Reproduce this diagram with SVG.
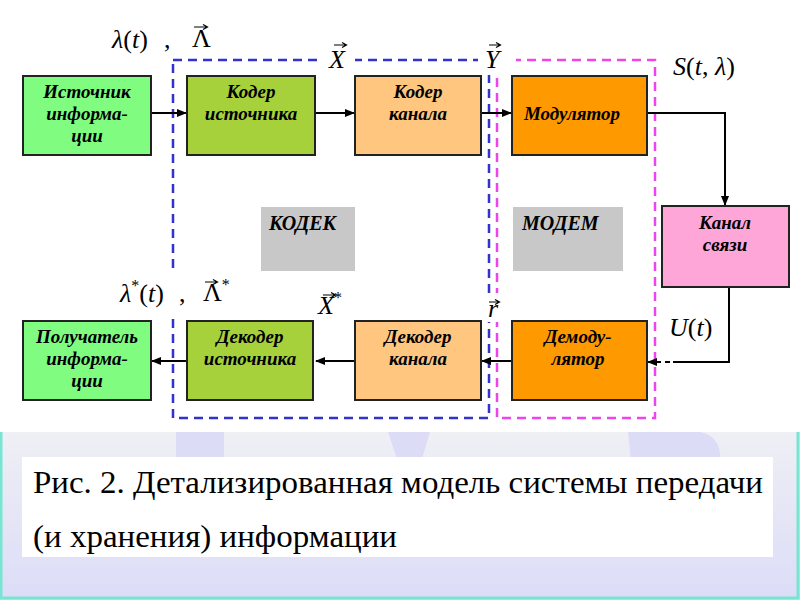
<svg xmlns="http://www.w3.org/2000/svg" width="800" height="600" viewBox="0 0 800 600" font-family="Liberation Serif, Times New Roman, serif">
<defs>
<linearGradient id="pg" x1="0" y1="0" x2="0" y2="1"><stop offset="0" stop-color="#EFEFF5"/><stop offset="1" stop-color="#DCDCF8"/></linearGradient>
<marker id="ah" markerWidth="10" markerHeight="8" refX="9" refY="4" orient="auto" markerUnits="userSpaceOnUse"><path d="M0,0 L10,4 L0,8 Z" fill="#000"/></marker>
<style>
.node{stroke:#222;stroke-width:2}
.nt{font-weight:bold;font-style:italic;font-size:19px;text-anchor:middle;fill:#000}
.lbl{font-weight:bold;font-style:italic;font-size:20px;fill:#000}
.m{font-size:26px;fill:#000}
.i{font-style:italic}
.vec{stroke:#000;stroke-width:1.2;fill:none}
.conn{stroke:#000;stroke-width:2;fill:none}
.cap{font-size:32px;fill:#000}
</style>
</defs>
<rect width="800" height="600" fill="#fff"/>
<g id="panel">
<rect x="0" y="432" width="800" height="168" fill="url(#pg)"/>
<path d="M176,432 H224 V470 H176 Z" fill="#DCDCF6"/>
<path d="M388,432 L430,432 L421,462 L398,462 Z" fill="#DCDCF6"/>
<path d="M628,432 H700 Q724,436 720,470 H632 Z" fill="#DCDCF6"/>
<path d="M1,432 V598 H798 V432" fill="none" stroke="#76E6D2" stroke-width="3"/>
<rect x="22" y="457" width="751" height="100" fill="#fff"/>
<text class="cap" font-family="Liberation Serif, serif" x="33" y="493" textLength="730" lengthAdjust="spacingAndGlyphs">Рис. 2. Детализированная модель системы передачи</text>
<text class="cap" font-family="Liberation Serif, serif" x="33" y="547" textLength="364" lengthAdjust="spacingAndGlyphs">(и хранения) информации</text>
</g>
<g id="codec-frame"><rect x="173" y="60" width="316" height="358" fill="none" stroke="#3333CC" stroke-width="2.5" stroke-dasharray="9 6"/></g>
<g id="modem-frame"><rect x="497" y="60" width="158" height="358" fill="none" stroke="#EE44EE" stroke-width="2.5" stroke-dasharray="9 6"/></g>
<g id="codec-label"><rect x="261" y="207" width="94" height="64" fill="#C8C8C8"/><text class="lbl" x="269" y="230">КОДЕК</text></g>
<g id="modem-label"><rect x="513" y="207" width="110" height="64" fill="#C8C8C8"/><text class="lbl" x="522" y="230">МОДЕМ</text></g>
<g id="connectors">
<path class="conn" d="M151,113 H186" marker-end="url(#ah)"/>
<path class="conn" d="M315,113 H354" marker-end="url(#ah)"/>
<path class="conn" d="M481,113 H511" marker-end="url(#ah)"/>
<path class="conn" d="M647,113 H725 V205" marker-end="url(#ah)"/>
<path class="conn" d="M729,287 V362 H673"/>
<path class="conn" d="M670,362 H648" stroke-dasharray="5 4" marker-end="url(#ah)"/>
<path class="conn" d="M512,361 H482" marker-end="url(#ah)"/>
<path class="conn" d="M355,361 H316" marker-end="url(#ah)"/>
<path class="conn" d="M187,361 H152" marker-end="url(#ah)"/>
</g>
<g id="src"><rect class="node" x="23" y="76" width="128" height="79" fill="#80FC80"/><text class="nt" x="87" y="98">Источник</text><text class="nt" x="87" y="120">информа-</text><text class="nt" x="87" y="142">ции</text></g>
<g id="enc-src"><rect class="node" x="187" y="76" width="128" height="79" fill="#A6D13B"/><text class="nt" x="251" y="98">Кодер</text><text class="nt" x="251" y="120">источника</text></g>
<g id="enc-ch"><rect class="node" x="355" y="76" width="126" height="79" fill="#FFC680"/><text class="nt" x="418" y="98">Кодер</text><text class="nt" x="418" y="120">канала</text></g>
<g id="mod"><rect class="node" x="512" y="76" width="135" height="79" fill="#FF9900"/><text class="nt" x="572" y="120">Модулятор</text></g>
<g id="channel"><rect class="node" x="662" y="206" width="127" height="81" fill="#FFA6D9"/><text class="nt" x="725" y="229">Канал</text><text class="nt" x="725" y="251">связи</text></g>
<g id="demod"><rect class="node" x="512" y="321" width="135" height="79" fill="#FF9900"/><text class="nt" x="578" y="343">Демоду-</text><text class="nt" x="578" y="365">лятор</text></g>
<g id="dec-ch"><rect class="node" x="355" y="321" width="126" height="79" fill="#FFC680"/><text class="nt" x="418" y="343">Декодер</text><text class="nt" x="418" y="365">канала</text></g>
<g id="dec-src"><rect class="node" x="187" y="321" width="126" height="79" fill="#A6D13B"/><text class="nt" x="250" y="343">Декодер</text><text class="nt" x="250" y="365">источника</text></g>
<g id="recv"><rect class="node" x="23" y="321" width="128" height="79" fill="#80FC80"/><text class="nt" x="87" y="343">Получатель</text><text class="nt" x="87" y="365">информа-</text><text class="nt" x="87" y="387">ции</text></g>
<g id="labels">
<text class="m" x="112" y="48"><tspan class="i">λ</tspan>(<tspan class="i">t</tspan>)</text>
<text class="m" x="164" y="48">,</text>
<text class="m" x="192" y="47" font-size="24">Λ</text>
<path class="vec" d="M194,27 H207 M203,24.5 L207.5,27 L203,29.5"/>
<rect x="322" y="38" width="33" height="34" fill="#fff"/>
<text class="m i" x="329" y="68" font-size="24">X</text>
<path class="vec" d="M334,45 H346 M342,42.5 L346.5,45 L342,47.5"/>
<rect x="478" y="38" width="38" height="37" fill="#fff"/>
<text class="m i" x="485" y="68" font-size="24">Y</text>
<path class="vec" d="M489,45 H500 M496,42.5 L500.5,45 L496,47.5"/>
<text class="m" x="673" y="75"><tspan class="i">S</tspan>(<tspan class="i">t</tspan>, <tspan class="i">λ</tspan>)</text>
<rect x="110" y="270" width="125" height="43" fill="#fff"/>
<text class="m" x="120" y="302"><tspan class="i">λ</tspan><tspan font-size="16" dy="-11">*</tspan><tspan dy="11">(</tspan><tspan class="i">t</tspan>)</text>
<text class="m" x="179" y="302">,</text>
<text class="m" x="203" y="301" font-size="24">Λ<tspan font-size="16" dy="-11">*</tspan></text>
<path class="vec" d="M205,282 H217 M213,279.5 L217.5,282 L213,284.5"/>
<text class="m i" x="318" y="314" font-size="24">X<tspan font-size="16" dy="-11" font-style="normal">*</tspan></text>
<path class="vec" d="M323,295 H335 M331,292.5 L335.5,295 L331,297.5"/>
<rect x="484" y="293" width="19" height="29" fill="#fff"/>
<text class="m i" x="488" y="317" font-size="24">r</text>
<path class="vec" d="M489,302 H499 M495,299.5 L499.5,302 L495,304.5"/>
<text class="m" x="669" y="336"><tspan class="i">U</tspan>(<tspan class="i">t</tspan>)</text>
</g>
</svg>
